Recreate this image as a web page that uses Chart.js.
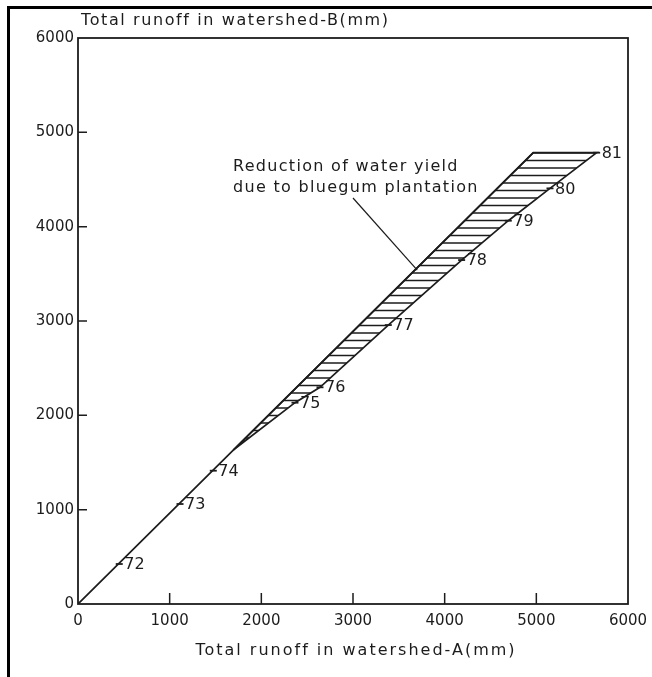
<!DOCTYPE html>
<html><head><meta charset="utf-8">
<style>html,body{margin:0;padding:0;background:#fff;overflow:hidden}canvas{display:block}</style>
<script src="https://cdn.jsdelivr.net/npm/chart.js@4.4.1/dist/chart.umd.min.js"></script>
</head><body>
<canvas id="c" width="652" height="677" style="width:652px;height:677px"></canvas>
<script>
// ---- data ----
const axisTicks = [0, 1000, 2000, 3000, 4000, 5000, 6000];
const yearLabels = ['72', '73', '74', '75', '76', '77', '78', '79', '80', '81'];
const runoffA = [450, 1113, 1476, 2367, 2640, 3385, 4185, 4694, 5149, 5658];
const runoffB = [424, 1060, 1413, 2134, 2297, 2957, 3646, 4063, 4406, 4784];
// straight calibration line (before plantation)
const lineA = [0, 1694, 4967];
const lineB = [0, 1632, 4784];
// hatched reduction zone: upper boundary and lower (observed) boundary
const zoneUpperA = [1694, 4967, 5658];
const zoneUpperB = [1632, 4784, 4784];
const zoneLowerA = [1694, 2367, 2640, 3385, 4185, 4694, 5149, 5658];
const zoneLowerB = [1632, 2134, 2297, 2957, 3646, 4063, 4406, 4784];
// annotation
const noteLines = ['Reduction of water yield', 'due to bluegum plantation'];
const noteA = 1691;
const noteB = [4632, 4410];
const leaderA = [3000, 3701];
const leaderB = [4304, 3540];
const xTitle = 'Total runoff in watershed-A(mm)';
const yTitle = 'Total runoff in watershed-B(mm)';

const INK = '#1c1c1c';
const FONT = '"DejaVu Sans", sans-serif';

const pts = (xs, ys) => xs.map((x, i) => ({x, y: ys[i]}));
const zonePts = pts(zoneUpperA, zoneUpperB).concat(
  pts(zoneLowerA, zoneLowerB).reverse().slice(1));

function hatchPattern(ctx) {
  const c = document.createElement('canvas');
  c.width = 8; c.height = 15;
  const g = c.getContext('2d');
  g.strokeStyle = INK; g.lineWidth = 1.5;
  g.beginPath(); g.moveTo(0, 3); g.lineTo(8, 3); g.moveTo(0, 10.5); g.lineTo(8, 10.5); g.stroke();
  return ctx.createPattern(c, 'repeat');
}

const decor = {
  id: 'decor',
  beforeDraw(chart) {
    const ctx = chart.ctx;
    ctx.save();
    ctx.fillStyle = '#fff';
    ctx.fillRect(0, 0, chart.width, chart.height);
    ctx.fillStyle = '#000';
    ctx.fillRect(7, 6, 3, chart.height - 6);
    ctx.fillRect(7, 6, chart.width - 7, 3);
    ctx.restore();
  },
  beforeDatasetsDraw(chart) {
    const ctx = chart.ctx;
    const meta = chart.getDatasetMeta(0);
    ctx.save();
    ctx.beginPath();
    meta.data.forEach((p, i) => i ? ctx.lineTo(p.x, p.y) : ctx.moveTo(p.x, p.y));
    ctx.closePath();
    ctx.fillStyle = hatchPattern(ctx);
    ctx.fill();
    ctx.restore();
  },
  afterDraw(chart) {
    const ctx = chart.ctx;
    const a = chart.chartArea;
    const xs = chart.scales.x, ys = chart.scales.y;
    ctx.save();
    // plot frame
    ctx.strokeStyle = INK; ctx.lineWidth = 1.8;
    ctx.strokeRect(a.left, a.top, a.right - a.left, a.bottom - a.top);
    // inward tick marks
    ctx.lineWidth = 1.5;
    ctx.beginPath();
    xs.ticks.forEach(t => {
      if (t.value <= xs.min || t.value >= xs.max) return;
      const px = xs.getPixelForValue(t.value);
      ctx.moveTo(px, a.bottom); ctx.lineTo(px, a.bottom - 11);
    });
    ys.ticks.forEach(t => {
      if (t.value <= ys.min || t.value >= ys.max) return;
      const py = ys.getPixelForValue(t.value);
      ctx.moveTo(a.left, py); ctx.lineTo(a.left + 9, py);
    });
    ctx.stroke();
    // year labels
    ctx.fillStyle = INK;
    ctx.font = '16px ' + FONT;
    ctx.textBaseline = 'middle';
    ctx.textAlign = 'left';
    const ym = chart.getDatasetMeta(2);
    ym.data.forEach((p, i) => ctx.fillText(yearLabels[i], p.x + 5, p.y + 1));
    // annotation text
    if ('letterSpacing' in ctx) ctx.letterSpacing = '1.3px';
    noteLines.forEach((s, i) =>
      ctx.fillText(s, xs.getPixelForValue(noteA), ys.getPixelForValue(noteB[i])));
    // axis titles
    if ('letterSpacing' in ctx) ctx.letterSpacing = '1.6px';
    ctx.textAlign = 'left';
    ctx.fillText(yTitle, a.left + 3, 21);
    if ('letterSpacing' in ctx) ctx.letterSpacing = '2px';
    ctx.textAlign = 'center';
    ctx.fillText(xTitle, (a.left + a.right) / 2 + 3, 651);
    ctx.restore();
  }
};

new Chart(document.getElementById('c'), {
  type: 'scatter',
  data: {
    datasets: [
      { label: 'Reduction zone', data: zonePts, showLine: true, borderColor: INK,
        borderWidth: 1.7, pointRadius: 0, tension: 0, fill: false },
      { label: 'Calibration line', data: pts(lineA, lineB), showLine: true, borderColor: INK,
        borderWidth: 1.7, pointRadius: 0, tension: 0, fill: false },
      { label: 'Years', data: pts(runoffA, runoffB), showLine: false, pointStyle: 'line',
        pointRadius: 3.5, borderColor: INK, borderWidth: 1.8, backgroundColor: INK },
      { label: 'Leader', data: pts(leaderA, leaderB), showLine: true, borderColor: INK,
        borderWidth: 1.2, pointRadius: 0, tension: 0 }
    ]
  },
  options: {
    responsive: false,
    animation: false,
    devicePixelRatio: 1,
    layout: { padding: { left: 0, top: 38, right: 24, bottom: 0 } },
    plugins: { legend: { display: false }, tooltip: { enabled: false } },
    scales: {
      x: {
        type: 'linear', min: 0, max: 6000,
        afterBuildTicks: s => { s.ticks = axisTicks.map(v => ({ value: v })); },
        afterFit: s => { s.height = 73; s.paddingLeft = 0; s.paddingRight = 0; },
        grid: { display: false, drawTicks: false },
        border: { display: false },
        ticks: { color: INK, font: { family: FONT, size: 15 }, padding: 8, maxRotation: 0,
          autoSkip: false, callback: v => String(v) }
      },
      y: {
        type: 'linear', min: 0, max: 6000,
        afterBuildTicks: s => { s.ticks = axisTicks.map(v => ({ value: v })); },
        afterFit: s => { s.width = 78; s.paddingTop = 0; s.paddingBottom = 0; },
        grid: { display: false, drawTicks: false },
        border: { display: false },
        ticks: { color: INK, font: { family: FONT, size: 15 }, padding: 4, autoSkip: false,
          callback: v => String(v) }
      }
    }
  },
  plugins: [decor]
});
</script>
</body></html>
